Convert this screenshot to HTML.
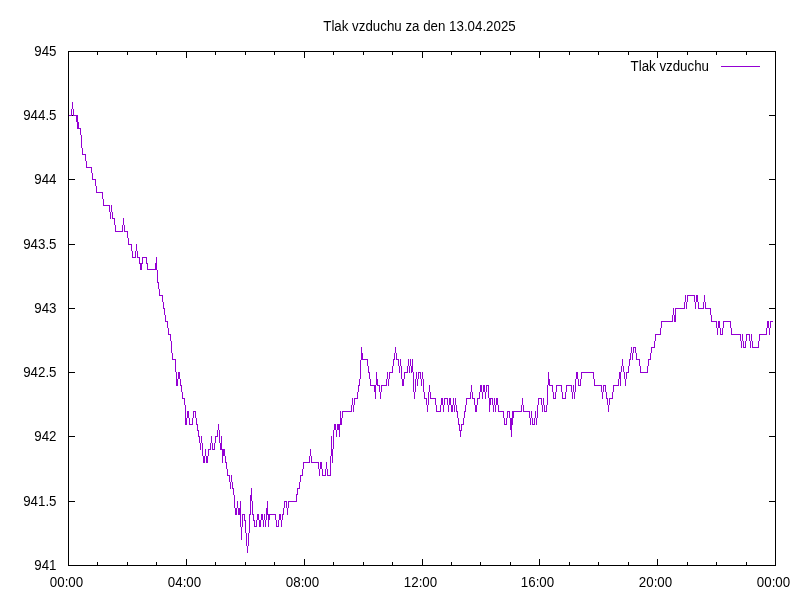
<!DOCTYPE html>
<html><head><meta charset="utf-8"><title>Tlak vzduchu</title>
<style>
html,body{margin:0;padding:0;background:#fff;}
svg{display:block;}
text{font-family:"Liberation Sans",Arial,sans-serif;font-size:13.33px;fill:#000;}
</style></head><body>
<svg width="800" height="600" viewBox="0 0 800 600">
<rect width="800" height="600" fill="#fff"/>
<g stroke="#000" stroke-width="1" fill="none" shape-rendering="crispEdges">
<line x1="68" y1="51.5" x2="776" y2="51.5"/>
<line x1="68" y1="565.5" x2="776" y2="565.5"/>
<line x1="68.5" y1="51" x2="68.5" y2="566"/>
<line x1="775.5" y1="51" x2="775.5" y2="566"/>
<path d="M68.5 566v-7M68.5 51v7M97.5 566v-4M97.5 51v4M127.5 566v-4M127.5 51v4M156.5 566v-4M156.5 51v4M186.5 566v-7M186.5 51v7M215.5 566v-4M215.5 51v4M245.5 566v-4M245.5 51v4M274.5 566v-4M274.5 51v4M304.5 566v-7M304.5 51v7M333.5 566v-4M333.5 51v4M363.5 566v-4M363.5 51v4M392.5 566v-4M392.5 51v4M422.5 566v-7M422.5 51v7M451.5 566v-4M451.5 51v4M480.5 566v-4M480.5 51v4M510.5 566v-4M510.5 51v4M539.5 566v-7M539.5 51v7M569.5 566v-4M569.5 51v4M598.5 566v-4M598.5 51v4M628.5 566v-4M628.5 51v4M657.5 566v-7M657.5 51v7M687.5 566v-4M687.5 51v4M716.5 566v-4M716.5 51v4M746.5 566v-4M746.5 51v4M775.5 566v-7M775.5 51v7M68 51.5h7M776 51.5h-7M68 115.5h7M776 115.5h-7M68 179.5h7M776 179.5h-7M68 244.5h7M776 244.5h-7M68 308.5h7M776 308.5h-7M68 372.5h7M776 372.5h-7M68 436.5h7M776 436.5h-7M68 501.5h7M776 501.5h-7M68 565.5h7M776 565.5h-7"/>
</g>
<g style="filter:grayscale(1)">
<text transform="translate(56.5 56) scale(1 1.1)" text-anchor="end">945</text>
<text transform="translate(56.5 120) scale(1 1.1)" text-anchor="end">944.5</text>
<text transform="translate(56.5 184) scale(1 1.1)" text-anchor="end">944</text>
<text transform="translate(56.5 249) scale(1 1.1)" text-anchor="end">943.5</text>
<text transform="translate(56.5 313) scale(1 1.1)" text-anchor="end">943</text>
<text transform="translate(56.5 377) scale(1 1.1)" text-anchor="end">942.5</text>
<text transform="translate(56.5 441) scale(1 1.1)" text-anchor="end">942</text>
<text transform="translate(56.5 506) scale(1 1.1)" text-anchor="end">941.5</text>
<text transform="translate(56.5 570) scale(1 1.1)" text-anchor="end">941</text>
<text transform="translate(66.5 587) scale(1 1.1)" text-anchor="middle">00:00</text>
<text transform="translate(184.5 587) scale(1 1.1)" text-anchor="middle">04:00</text>
<text transform="translate(302.5 587) scale(1 1.1)" text-anchor="middle">08:00</text>
<text transform="translate(420.5 587) scale(1 1.1)" text-anchor="middle">12:00</text>
<text transform="translate(537.5 587) scale(1 1.1)" text-anchor="middle">16:00</text>
<text transform="translate(655.5 587) scale(1 1.1)" text-anchor="middle">20:00</text>
<text transform="translate(773.5 587) scale(1 1.1)" text-anchor="middle">00:00</text>
<text transform="translate(419.5 31) scale(1 1.1)" text-anchor="middle">Tlak vzduchu za den 13.04.2025</text>
<text transform="translate(709 71) scale(1 1.1)" text-anchor="end">Tlak vzduchu</text>
</g>
<line x1="721" y1="66.5" x2="760" y2="66.5" stroke="#9400d3" stroke-width="1" shape-rendering="crispEdges"/>
<path d="M69.5 115v1M70.5 115v1M71.5 109v7M72.5 102v7M73.5 109v7M74.5 115v1M75.5 115v1M76.5 115v7M77.5 115v14M78.5 122v7M79.5 128v1M80.5 128v7M81.5 135v13M82.5 148v7M83.5 154v1M84.5 154v1M85.5 154v7M86.5 161v7M87.5 167v1M88.5 167v1M89.5 167v1M90.5 167v1M91.5 167v6M92.5 173v7M93.5 179v1M94.5 179v1M95.5 179v7M96.5 186v7M97.5 192v1M98.5 192v1M99.5 192v1M100.5 192v1M101.5 192v1M102.5 192v7M103.5 199v7M104.5 205v1M105.5 205v1M106.5 205v1M107.5 205v1M108.5 205v1M109.5 205v7M110.5 212v7M111.5 205v7M112.5 212v7M113.5 218v1M114.5 218v7M115.5 225v7M116.5 231v1M117.5 231v1M118.5 231v1M119.5 231v1M120.5 231v1M121.5 231v1M122.5 225v7M123.5 218v7M124.5 225v7M125.5 231v1M126.5 231v1M127.5 231v7M128.5 238v7M129.5 244v1M130.5 244v1M131.5 244v7M132.5 251v7M133.5 257v1M134.5 257v1M135.5 251v7M136.5 244v7M137.5 251v7M138.5 257v1M139.5 257v7M140.5 263v7M141.5 263v7M142.5 257v7M143.5 257v1M144.5 257v1M145.5 257v1M146.5 257v7M147.5 263v7M148.5 269v1M149.5 269v1M150.5 269v1M151.5 269v1M152.5 269v1M153.5 269v1M154.5 269v1M155.5 263v7M156.5 257v13M157.5 270v13M158.5 282v7M159.5 289v7M160.5 295v1M161.5 295v1M162.5 295v7M163.5 302v7M164.5 308v7M165.5 315v7M166.5 321v1M167.5 321v7M168.5 328v7M169.5 334v1M170.5 334v7M171.5 341v12M172.5 353v7M173.5 359v1M174.5 359v1M175.5 359v13M176.5 372v14M177.5 379v7M178.5 372v7M179.5 372v7M180.5 379v7M181.5 385v7M182.5 392v7M183.5 398v1M184.5 398v7M185.5 405v20M186.5 418v7M187.5 411v7M188.5 411v7M189.5 418v7M190.5 424v1M191.5 424v1M192.5 418v7M193.5 411v7M194.5 411v1M195.5 411v7M196.5 418v7M197.5 424v7M198.5 430v7M199.5 436v7M200.5 443v7M201.5 436v7M202.5 443v13M203.5 456v7M204.5 456v7M205.5 449v7M206.5 456v7M207.5 456v7M208.5 449v7M209.5 449v1M210.5 443v7M211.5 436v7M212.5 443v7M213.5 449v1M214.5 443v7M215.5 436v7M216.5 436v1M217.5 430v7M218.5 424v6M219.5 430v13M220.5 443v7M221.5 436v14M222.5 449v14M223.5 449v7M224.5 449v7M225.5 456v7M226.5 462v7M227.5 469v7M228.5 475v1M229.5 475v7M230.5 482v7M231.5 475v7M232.5 482v7M233.5 488v7M234.5 495v13M235.5 508v7M236.5 508v7M237.5 501v7M238.5 508v7M239.5 508v7M240.5 501v26M241.5 527v13M242.5 514v13M243.5 514v1M244.5 514v7M245.5 520v13M246.5 533v13M247.5 546v7M248.5 533v13M249.5 514v19M250.5 495v20M251.5 488v13M252.5 501v14M253.5 514v7M254.5 520v7M255.5 526v1M256.5 520v7M257.5 514v6M258.5 514v6M259.5 520v7M260.5 520v7M261.5 514v6M262.5 514v6M263.5 520v7M264.5 514v6M265.5 520v7M266.5 508v12M267.5 501v14M268.5 514v13M269.5 514v6M270.5 514v1M271.5 514v1M272.5 514v1M273.5 514v1M274.5 514v1M275.5 514v6M276.5 520v7M277.5 526v1M278.5 520v7M279.5 514v6M280.5 514v6M281.5 520v7M282.5 514v6M283.5 508v7M284.5 501v7M285.5 501v1M286.5 501v7M287.5 508v7M288.5 501v7M289.5 501v1M290.5 501v1M291.5 501v1M292.5 501v1M293.5 501v1M294.5 501v1M295.5 501v1M296.5 494v8M297.5 488v7M298.5 488v1M299.5 482v7M300.5 475v7M301.5 475v1M302.5 469v7M303.5 462v7M304.5 462v1M305.5 462v1M306.5 462v1M307.5 462v1M308.5 462v1M309.5 456v7M310.5 449v7M311.5 456v7M312.5 462v1M313.5 462v1M314.5 462v1M315.5 462v1M316.5 462v1M317.5 462v1M318.5 462v7M319.5 469v7M320.5 462v7M321.5 462v7M322.5 469v7M323.5 475v1M324.5 475v1M325.5 469v7M326.5 462v7M327.5 469v7M328.5 475v1M329.5 475v1M330.5 456v20M331.5 436v20M332.5 449v14M333.5 430v19M334.5 424v6M335.5 424v6M336.5 430v7M337.5 424v6M338.5 424v6M339.5 424v13M340.5 411v14M341.5 418v7M342.5 411v7M343.5 411v1M344.5 411v1M345.5 411v1M346.5 411v1M347.5 411v1M348.5 411v1M349.5 411v1M350.5 411v1M351.5 405v7M352.5 398v7M353.5 405v7M354.5 398v7M355.5 398v1M356.5 398v1M357.5 392v7M358.5 385v7M359.5 379v7M360.5 360v19M361.5 347v13M362.5 353v7M363.5 359v1M364.5 359v1M365.5 359v1M366.5 359v1M367.5 359v7M368.5 366v7M369.5 372v7M370.5 379v7M371.5 385v1M372.5 385v1M373.5 385v1M374.5 385v7M375.5 385v14M376.5 372v13M377.5 379v7M378.5 385v1M379.5 385v7M380.5 392v7M381.5 385v7M382.5 385v1M383.5 385v1M384.5 385v1M385.5 385v1M386.5 379v7M387.5 372v7M388.5 379v7M389.5 372v7M390.5 372v1M391.5 372v1M392.5 366v7M393.5 359v7M394.5 353v7M395.5 347v6M396.5 353v7M397.5 359v1M398.5 359v7M399.5 366v7M400.5 359v7M401.5 366v13M402.5 379v7M403.5 379v7M404.5 372v7M405.5 372v1M406.5 372v1M407.5 366v7M408.5 359v7M409.5 366v7M410.5 359v7M411.5 366v7M412.5 359v13M413.5 372v20M414.5 392v7M415.5 379v13M416.5 372v7M417.5 379v7M418.5 372v7M419.5 372v1M420.5 372v7M421.5 379v7M422.5 372v7M423.5 379v13M424.5 392v7M425.5 398v1M426.5 398v7M427.5 405v7M428.5 392v13M429.5 385v7M430.5 392v7M431.5 398v1M432.5 398v1M433.5 398v1M434.5 398v1M435.5 398v7M436.5 405v7M437.5 411v1M438.5 411v1M439.5 411v1M440.5 405v7M441.5 398v7M442.5 398v7M443.5 405v7M444.5 398v7M445.5 398v1M446.5 398v1M447.5 398v7M448.5 405v7M449.5 398v7M450.5 398v7M451.5 405v7M452.5 405v7M453.5 398v7M454.5 405v7M455.5 398v7M456.5 405v7M457.5 411v7M458.5 418v7M459.5 424v7M460.5 430v7M461.5 424v7M462.5 424v1M463.5 418v7M464.5 411v7M465.5 405v7M466.5 398v7M467.5 398v1M468.5 398v1M469.5 398v1M470.5 392v7M471.5 385v7M472.5 392v7M473.5 398v1M474.5 398v7M475.5 405v7M476.5 405v7M477.5 398v7M478.5 398v1M479.5 392v7M480.5 385v7M481.5 385v7M482.5 392v7M483.5 385v7M484.5 385v7M485.5 392v7M486.5 385v7M487.5 385v1M488.5 385v13M489.5 398v14M490.5 398v7M491.5 398v1M492.5 398v7M493.5 405v7M494.5 398v7M495.5 405v7M496.5 398v7M497.5 398v7M498.5 405v7M499.5 411v1M500.5 411v1M501.5 411v1M502.5 411v1M503.5 411v7M504.5 418v7M505.5 424v1M506.5 418v7M507.5 411v7M508.5 411v1M509.5 411v7M510.5 418v12M511.5 418v19M512.5 411v14M513.5 411v7M514.5 411v1M515.5 411v1M516.5 411v1M517.5 411v1M518.5 411v1M519.5 411v1M520.5 411v1M521.5 405v7M522.5 398v7M523.5 405v7M524.5 411v1M525.5 411v1M526.5 411v1M527.5 411v1M528.5 411v1M529.5 411v7M530.5 418v7M531.5 411v7M532.5 418v7M533.5 424v1M534.5 418v7M535.5 411v7M536.5 418v7M537.5 405v13M538.5 398v7M539.5 398v1M540.5 398v1M541.5 398v7M542.5 405v7M543.5 398v7M544.5 405v7M545.5 411v1M546.5 405v7M547.5 385v20M548.5 372v13M549.5 379v7M550.5 385v1M551.5 385v1M552.5 385v7M553.5 392v7M554.5 398v1M555.5 392v7M556.5 385v7M557.5 385v1M558.5 385v1M559.5 385v1M560.5 385v1M561.5 385v7M562.5 392v7M563.5 398v1M564.5 398v1M565.5 392v7M566.5 385v7M567.5 385v1M568.5 385v1M569.5 385v1M570.5 385v1M571.5 385v7M572.5 392v7M573.5 385v7M574.5 392v7M575.5 379v13M576.5 372v7M577.5 372v7M578.5 379v7M579.5 385v1M580.5 379v7M581.5 372v7M582.5 372v1M583.5 372v1M584.5 372v1M585.5 372v1M586.5 372v1M587.5 372v1M588.5 372v1M589.5 372v1M590.5 372v1M591.5 372v1M592.5 372v1M593.5 372v7M594.5 379v7M595.5 385v1M596.5 385v1M597.5 385v1M598.5 385v1M599.5 385v1M600.5 385v1M601.5 385v7M602.5 392v7M603.5 385v7M604.5 385v1M605.5 385v7M606.5 392v7M607.5 398v7M608.5 405v7M609.5 398v7M610.5 398v1M611.5 398v1M612.5 392v7M613.5 385v7M614.5 385v1M615.5 385v1M616.5 385v1M617.5 385v1M618.5 379v7M619.5 372v7M620.5 372v14M621.5 366v6M622.5 359v7M623.5 366v6M624.5 372v7M625.5 379v7M626.5 372v7M627.5 372v1M628.5 366v7M629.5 359v7M630.5 353v7M631.5 347v6M632.5 353v7M633.5 347v6M634.5 347v1M635.5 347v6M636.5 353v7M637.5 359v1M638.5 359v1M639.5 359v7M640.5 366v7M641.5 372v1M642.5 372v1M643.5 372v1M644.5 372v1M645.5 372v1M646.5 372v1M647.5 366v7M648.5 359v7M649.5 359v1M650.5 353v7M651.5 347v6M652.5 347v1M653.5 347v1M654.5 341v7M655.5 334v7M656.5 334v1M657.5 334v1M658.5 334v1M659.5 334v1M660.5 328v7M661.5 321v7M662.5 321v1M663.5 321v1M664.5 321v1M665.5 321v1M666.5 321v1M667.5 321v1M668.5 321v1M669.5 321v1M670.5 321v1M671.5 321v1M672.5 315v7M673.5 308v7M674.5 315v7M675.5 308v14M676.5 308v1M677.5 308v1M678.5 308v1M679.5 308v1M680.5 308v1M681.5 308v1M682.5 308v1M683.5 308v1M684.5 302v7M685.5 295v7M686.5 302v7M687.5 295v7M688.5 295v1M689.5 295v1M690.5 295v1M691.5 295v1M692.5 295v1M693.5 295v1M694.5 295v7M695.5 302v7M696.5 295v7M697.5 295v7M698.5 302v7M699.5 308v1M700.5 308v1M701.5 308v1M702.5 308v1M703.5 302v7M704.5 295v7M705.5 302v7M706.5 308v1M707.5 308v1M708.5 308v1M709.5 308v1M710.5 308v7M711.5 315v7M712.5 321v1M713.5 321v1M714.5 321v1M715.5 321v1M716.5 321v7M717.5 328v7M718.5 321v7M719.5 321v7M720.5 328v7M721.5 334v1M722.5 328v7M723.5 321v7M724.5 321v1M725.5 321v1M726.5 321v1M727.5 321v1M728.5 321v1M729.5 321v1M730.5 321v7M731.5 328v7M732.5 334v1M733.5 334v1M734.5 334v1M735.5 334v1M736.5 334v1M737.5 334v1M738.5 334v1M739.5 334v1M740.5 334v7M741.5 341v7M742.5 334v7M743.5 341v7M744.5 347v1M745.5 341v7M746.5 334v7M747.5 334v1M748.5 334v1M749.5 334v7M750.5 341v7M751.5 334v7M752.5 341v7M753.5 347v1M754.5 347v1M755.5 347v1M756.5 347v1M757.5 347v1M758.5 341v7M759.5 334v7M760.5 334v1M761.5 334v1M762.5 334v1M763.5 334v1M764.5 334v1M765.5 334v1M766.5 328v7M767.5 321v7M768.5 321v7M769.5 328v7M770.5 321v7M771.5 321v1M772.5 321v1" fill="none" stroke="#9400d3" stroke-width="1" shape-rendering="crispEdges"/>
</svg>
</body></html>
